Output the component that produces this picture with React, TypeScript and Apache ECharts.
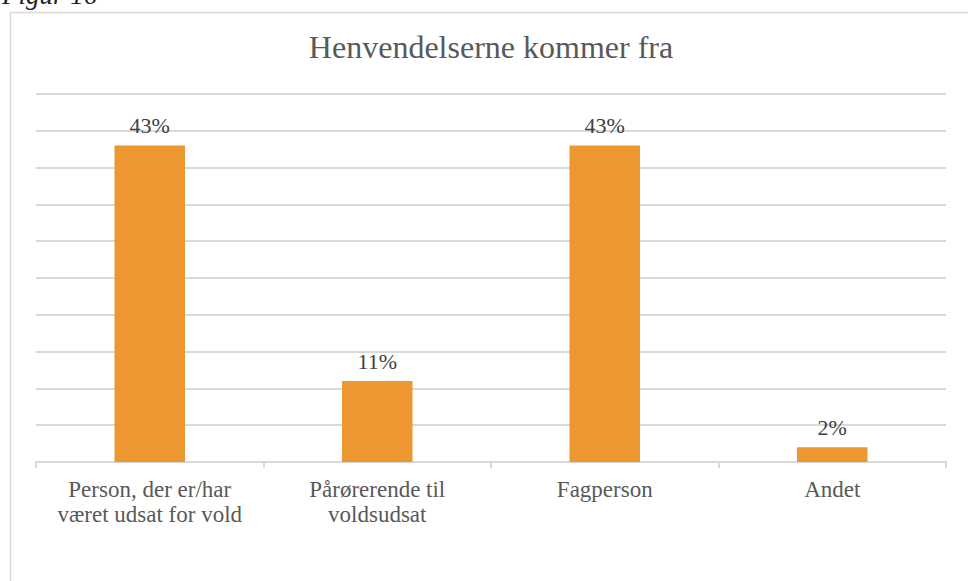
import React, { useEffect, useRef } from "react";
import * as echarts from "echarts";

const categories = [
  "Person, der er/har\nværet udsat for vold",
  "Pårørerende til\nvoldsudsat",
  "Fagperson",
  "Andet",
];
const values = [43, 11, 43, 2];
const titleText = "Henvendelserne kommer fra";
const figureCaption = "Figur 16";

const FONT = "'Liberation Serif', 'DejaVu Serif', serif";

export default function App() {
  const ref = useRef<HTMLDivElement>(null);
  useEffect(() => {
    if (!ref.current) return;
    const chart = echarts.init(ref.current, null, { renderer: "svg" });
    chart.setOption({
      animation: false,
      backgroundColor: "#ffffff",
      title: {
        text: titleText,
        left: 486,
        top: 26,
        textAlign: "center",
        textStyle: { fontFamily: FONT, fontSize: 32, fontWeight: "normal", color: "#595959" },
      },
      graphic: [
        {
          type: "rect",
          shape: { x: 10.5, y: 12.5, width: 980, height: 600 },
          style: { fill: "none", stroke: "#d9d9d9", lineWidth: 1.5 },
          silent: true,
        },
        {
          type: "text",
          x: 2,
          y: -19,
          style: {
            text: figureCaption,
            font: `italic 27px ${FONT}`,
            fill: "#222222",
          },
        },
      ],
      grid: { left: 36, right: 22, top: 94, bottom: 119 },
      xAxis: {
        type: "category",
        data: categories,
        axisLine: { lineStyle: { color: "#d9d9d9", width: 2 } },
        axisTick: { show: true, interval: 0, length: 6, lineStyle: { color: "#d9d9d9", width: 2 } },
        axisLabel: {
          interval: 0,
          fontFamily: FONT,
          fontSize: 23,
          color: "#595959",
          lineHeight: 25,
          margin: 15,
        },
      },
      yAxis: {
        type: "value",
        min: 0,
        max: 50,
        interval: 5,
        axisLabel: { show: false },
        axisLine: { show: false },
        axisTick: { show: false },
        splitLine: { lineStyle: { color: "#d9d9d9", width: 2 } },
      },
      series: [
        {
          type: "bar",
          data: values,
          barWidth: "31%",
          itemStyle: { color: "#ed9732" },
          label: {
            show: true,
            position: "top",
            distance: 9,
            formatter: "{c}%",
            fontFamily: FONT,
            fontSize: 22,
            color: "#404040",
          },
        },
      ],
    });
    return () => chart.dispose();
  }, []);
  return (
    <div
      ref={ref}
      style={{ position: "fixed", left: 0, top: 0, width: 968, height: 581 }}
    />
  );
}
